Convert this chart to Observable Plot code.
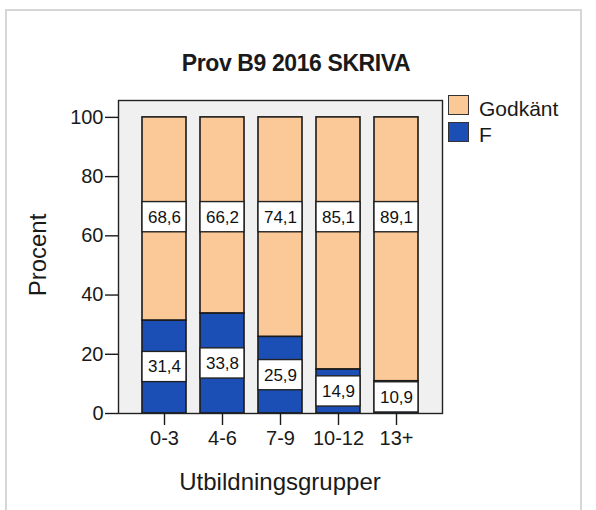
<!DOCTYPE html>
<html>
<head>
<meta charset="utf-8">
<script src="https://cdn.jsdelivr.net/npm/d3@7"></script>
<script src="https://cdn.jsdelivr.net/npm/@observablehq/plot@0.6"></script>
<style>
  html, body { margin: 0; padding: 0; background: #fff; }
  #wrap { position: relative; width: 596px; height: 510px; overflow: hidden; background: #fff;
          font-family: "Liberation Sans", Arial, sans-serif; color: #1a1a1a; }
  #outer { position: absolute; left: 5px; top: 9px; width: 577px; height: 540px;
           border: 2px solid #d6d6d6; box-sizing: border-box; }
  #chart { position: absolute; left: 0; top: 0; }
  .abs { position: absolute; line-height: 1; white-space: nowrap; }
  #title { left: 6px; width: 580px; top: 52px; text-align: center; font-size: 23px; font-weight: bold; letter-spacing: -0.4px; }
  #ylab { left: 38px; top: 255px; font-size: 24px; transform: translate(-50%, -50%) rotate(-90deg); }
  #xlab { left: 280px; top: 470px; font-size: 24px; transform: translateX(-50%); }
  .sw { position: absolute; width: 21px; height: 20px; border: 1px solid #333; box-sizing: border-box; }
  .lt { font-size: 21px; }
</style>
</head>
<body>
<div id="wrap">
  <div id="outer"></div>
  <div id="chart"></div>
  <div id="title" class="abs">Prov B9 2016 SKRIVA</div>
  <div id="ylab" class="abs">Procent</div>
  <div id="xlab" class="abs">Utbildningsgrupper</div>
  <div id="legend"></div>
</div>
<script>
// ---- data ----
const groups = ["0-3", "4-6", "7-9", "10-12", "13+"];
const godkant = [68.6, 66.2, 74.1, 85.1, 89.1];
const fail = [31.4, 33.8, 25.9, 14.9, 10.9];
const seriesNames = ["F", "Godkänt"];
const legendOrder = ["Godkänt", "F"];
const seriesColors = ["#1c4fb6", "#fbc997"];
const yTicks = [0, 20, 40, 60, 80, 100];

// ---- derived ----
const rows = groups.flatMap((g, i) => [
  {group: g, serie: "F", value: fail[i]},
  {group: g, serie: "Godkänt", value: godkant[i]}
]);
const GODKANT_LABEL_Y = 66.3;   // SPSS places these labels at roughly constant height
const BOX_HALF = 5.1;           // half height of label box, in y units
const labels = groups.flatMap((g, i) => [
  {group: g, v: fail[i], mid: fail[i] / 2},
  {group: g, v: godkant[i], mid: GODKANT_LABEL_Y}
]);
const fmt = v => v.toFixed(1).replace(".", ",");

const chart = Plot.plot({
  width: 596,
  height: 510,
  marginLeft: 118,
  marginRight: 154,
  marginTop: 100,
  marginBottom: 97,
  style: {background: "transparent", fontFamily: "Liberation Sans, Arial, sans-serif", color: "#1a1a1a", fontSize: "20px"},
  x: {domain: groups, paddingInner: 0.24, paddingOuter: 0.41, label: null},
  y: {domain: [0, 105.7], label: null},
  color: {domain: seriesNames, range: seriesColors},
  marks: [
    Plot.frame({fill: "#f0f0f0", stroke: null}),
    Plot.barY(rows, {x: "group", y: "value", fill: "serie", order: seriesNames, stroke: "#1a1a1a", strokeWidth: 1.6}),
    Plot.barY(labels, {x: "group", y1: d => d.mid - BOX_HALF, y2: d => d.mid + BOX_HALF, fill: "white", stroke: "#222", strokeWidth: 1.4}),
    Plot.text(labels, {x: "group", y: "mid", text: d => fmt(d.v), fontSize: 17, fill: "#111"}),
    Plot.frame({stroke: "#222", strokeWidth: 1.4}),
    Plot.axisY({ticks: yTicks, tickSize: 13, tickPadding: 2, fontSize: 20, label: null, strokeWidth: 1.4}),
    Plot.axisX({tickSize: 12, tickPadding: 5, fontSize: 20, label: null, strokeWidth: 1.4})
  ]
});
document.getElementById("chart").appendChild(chart);

// legend
const legend = document.getElementById("legend");
legendOrder.forEach((name, i) => {
  const sw = document.createElement("div");
  sw.className = "sw";
  sw.style.left = "448px";
  sw.style.top = (95 + i * 27) + "px";
  sw.style.background = seriesColors[seriesNames.indexOf(name)];
  legend.appendChild(sw);
  const t = document.createElement("div");
  t.className = "abs lt";
  t.style.left = "479px";
  t.style.top = (98 + i * 26) + "px";
  t.textContent = name;
  legend.appendChild(t);
});
</script>
</body>
</html>
